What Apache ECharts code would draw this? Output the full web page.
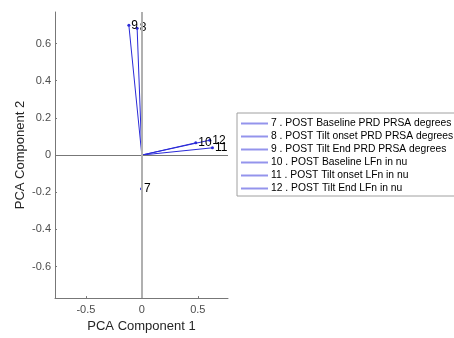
<!DOCTYPE html>
<html>
<head>
<meta charset="utf-8">
<script src="https://cdn.jsdelivr.net/npm/echarts@6/dist/echarts.min.js"></script>
<style>html,body{margin:0;padding:0;background:#fff;}#c{width:454px;height:338px;}</style>
</head>
<body>
<div id="c"></div>
<script>
const ids = ['7', '8', '9', '10', '11', '12'];
const names = [
  '7 . POST Baseline PRD PRSA degrees',
  '8 . POST Tilt onset PRD PRSA degrees',
  '9 . POST Tilt End PRD PRSA degrees',
  '10 . POST Baseline LFn in nu',
  '11 . POST Tilt onset LFn in nu',
  '12 . POST Tilt End LFn in nu'
];
const comp1 = [-0.003, -0.042, -0.116, 0.482, 0.631, 0.607];
const comp2 = [-0.182, 0.683, 0.699, 0.066, 0.039, 0.080];
const xTicks = [-0.5, 0, 0.5];
const yTicks = [-0.6, -0.4, -0.2, 0, 0.2, 0.4, 0.6];
const xLim = [-0.776, 0.77];
const yLim = [-0.77, 0.77];

const FONT = 'Liberation Sans, Arial, sans-serif';
const BLUE = '#2a2ad8';

const series = ids.map((id, i) => ({
  name: names[i],
  type: 'line',
  silent: true,
  animation: false,
  symbol: 'circle',
  symbolSize: 3,
  showSymbol: true,
  color: BLUE,
  lineStyle: { color: BLUE, width: 1 },
  itemStyle: { color: BLUE },
  data: [
    { value: [0, 0], symbol: 'none', label: { show: false } },
    { value: [comp1[i], comp2[i]], label: {
        show: true, position: 'right', distance: 1, formatter: id,
        color: '#000', fontSize: 12, fontFamily: FONT } }
  ],
  z: 3
}));

series.push({
  type: 'line',
  data: [],
  silent: true,
  markLine: {
    silent: true,
    symbol: 'none',
    label: { show: false },
    animation: false,
    data: [
      { yAxis: 0, lineStyle: { color: '#777', width: 1, type: 'solid' } },
      { xAxis: 0, lineStyle: { color: '#b0b0b0', width: 2, type: 'solid' } }
    ]
  },
  z: 1
});

const chart = echarts.init(document.getElementById('c'), null, { renderer: 'canvas' });
chart.setOption({
  animation: false,
  backgroundColor: '#fff',
  grid: { left: 55, right: 226, top: 12, bottom: 39, containLabel: false },
  xAxis: {
    type: 'value', min: xLim[0], max: xLim[1],
    name: 'PCA Component 1', nameLocation: 'middle', nameGap: 21,
    nameTextStyle: { color: '#262626', fontSize: 13, fontFamily: FONT },
    axisLine: { onZero: false, lineStyle: { color: '#777', width: 1 } },
    axisTick: { show: true, inside: true, length: 2, customValues: xTicks, lineStyle: { color: '#777' } },
    axisLabel: { customValues: xTicks, color: '#4d4d4d', fontSize: 11, fontFamily: FONT, margin: 6,
      formatter: v => String(v) },
    splitLine: { show: false }
  },
  yAxis: {
    type: 'value', min: yLim[0], max: yLim[1],
    name: 'PCA Component 2', nameLocation: 'middle', nameGap: 28, nameRotate: 90,
    nameTextStyle: { color: '#262626', fontSize: 13, fontFamily: FONT },
    axisLine: { onZero: false, lineStyle: { color: '#777', width: 1 } },
    axisTick: { show: true, inside: true, length: 2, customValues: yTicks, lineStyle: { color: '#777' } },
    axisLabel: { customValues: yTicks, color: '#4d4d4d', fontSize: 11, fontFamily: FONT, margin: 4,
      formatter: v => String(v) },
    splitLine: { show: false }
  },
  legend: {
    show: true,
    orient: 'vertical',
    left: 237, top: 113,
    padding: [4, 2, 1, 4],
    itemGap: 0,
    itemWidth: 27,
    itemHeight: 2,
    icon: 'rect',
    borderColor: '#a0a0a0',
    borderWidth: 1,
    backgroundColor: '#fff',
    selectedMode: false,
    itemStyle: { color: '#9494ec', borderWidth: 0 },
    data: names,
    textStyle: { color: '#000', fontSize: 10.3, fontFamily: FONT, lineHeight: 13, padding: [0, 0, 0, -2] }
  },
  series: series
});
</script>
</body>
</html>
